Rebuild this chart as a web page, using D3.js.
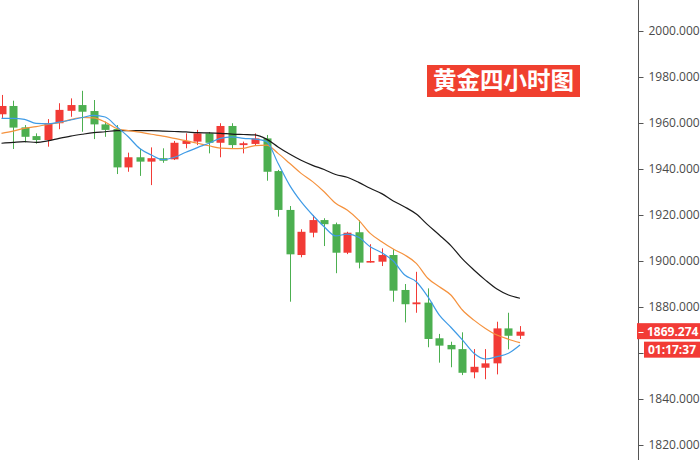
<!DOCTYPE html>
<html>
<head>
<meta charset="utf-8">
<script src="https://cdn.jsdelivr.net/npm/d3@7/dist/d3.min.js"></script>
<style>
  html, body { margin: 0; padding: 0; background: #fff; }
  svg { display: block; }
</style>
</head>
<body>
<svg id="chart" width="700" height="460"></svg>
<script>
// ---- data ----
const bars = d3.range(46).map(i => "K" + (i + 1));
const open  = [1963.8,1967.4,1958.1,1954.3,1952.6,1959.9,1965.3,1967.8,1965.2,1959.4,1957.4,1940.7,1945.1,1943.2,1944.7,1944.2,1950.9,1951.9,1955.5,1951.4,1958.7,1950.4,1950.9,1953.3,1939.1,1922.2,1902.6,1912.3,1917.8,1916.0,1903.6,1912.5,1899.3,1899.7,1902.6,1887.4,1881.2,1881.9,1866.4,1863.5,1861.7,1851.6,1853.6,1855.5,1870.7,1867.5];
const close = [1967.4,1958.0,1954.0,1952.6,1959.9,1965.7,1967.8,1964.9,1959.4,1957.0,1940.7,1945.1,1943.2,1944.7,1943.6,1951.4,1952.2,1955.5,1951.4,1958.7,1950.4,1951.2,1953.3,1938.8,1922.2,1902.9,1912.7,1917.8,1916.0,1903.6,1912.3,1899.3,1900.0,1902.6,1887.1,1881.2,1882.0,1866.1,1863.2,1861.6,1851.4,1854.0,1855.5,1870.7,1867.5,1869.274];
const high  = [1972.2,1969.7,1959.1,1955.5,1961.7,1968.6,1970.7,1974.0,1970.0,1960.6,1959.1,1947.1,1948.8,1949.4,1949.0,1952.2,1955.5,1957.0,1956.1,1959.9,1959.9,1951.9,1955.5,1954.8,1939.6,1923.9,1913.8,1920.0,1918.6,1916.7,1912.7,1917.8,1907.3,1905.5,1905.1,1890.0,1895.3,1888.1,1868.3,1864.9,1869.0,1861.7,1861.7,1873.6,1877.5,1871.7];
const low   = [1962.2,1948.7,1951.6,1951.0,1949.7,1957.3,1962.7,1956.2,1953.0,1954.0,1937.8,1938.8,1937.0,1933.0,1942.7,1943.9,1949.0,1950.4,1946.8,1945.1,1949.0,1946.8,1950.4,1934.9,1919.3,1882.3,1901.6,1910.3,1906.5,1894.7,1903.0,1896.8,1899.3,1897.8,1882.3,1873.3,1877.5,1862.5,1855.8,1853.8,1850.4,1849.0,1848.6,1850.7,1861.6,1866.1];
const ma5   = [1962.0,1962.0,1961.6,1959.8,1959.6,1960.4,1961.3,1962.4,1963.3,1962.6,1958.4,1954.0,1948.9,1946.1,1944.1,1945.1,1947.3,1949.3,1951.2,1953.3,1954.0,1953.3,1953.0,1951.9,1942.5,1933.0,1925.8,1920.0,1914.9,1910.9,1911.7,1910.3,1906.2,1903.6,1900.0,1893.9,1891.0,1884.5,1876.5,1871.2,1865.7,1859.9,1857.4,1858.4,1859.9,1863.5];
const ma10  = [1955.5,1956.5,1957.7,1958.4,1959.4,1960.1,1961.5,1962.4,1962.2,1960.4,1957.6,1956.7,1956.0,1955.1,1954.3,1953.3,1952.3,1951.2,1950.1,1949.1,1948.9,1949.0,1950.2,1950.4,1946.8,1942.5,1938.1,1934.5,1930.1,1925.1,1922.2,1917.8,1912.0,1908.4,1905.2,1902.6,1899.0,1892.5,1888.8,1885.2,1878.7,1874.3,1870.7,1867.8,1866.0,1864.5];
const ma20  = [1951.2,1951.6,1951.9,1951.6,1952.2,1953.3,1954.3,1955.1,1955.8,1956.2,1956.7,1956.7,1956.7,1956.7,1956.5,1956.3,1956.1,1955.8,1955.7,1955.5,1955.2,1955.0,1954.8,1953.0,1949.6,1946.5,1943.8,1941.6,1939.8,1937.6,1936.4,1934.2,1931.6,1929.3,1926.1,1923.5,1920.4,1915.7,1911.3,1906.7,1900.9,1896.1,1891.7,1887.8,1885.2,1883.8];
const yTicks = [1820,1840,1860,1880,1900,1920,1940,1960,1980,2000];
const hiddenTickLabels = [1860]; // covered by the countdown tag in the reference
const title = "黄金四小时图";
const lastPrice = "1869.274";
const countdown = "01:17:37";

// ---- colours ----
const UP = "#f23b36", DOWN = "#4caf50";

const svg = d3.select("#chart");
const W = 700, H = 460, axisX = 638;

const x = d3.scalePoint().domain(bars).range([1.5, 520]);
const y = d3.scaleLinear().domain([1820, 2000]).range([445, 31]);

const plot = svg.append("g");
plot.append("clipPath").attr("id", "clip")
  .append("rect").attr("x", 0).attr("y", 0).attr("width", axisX).attr("height", H);
const g = plot.append("g").attr("clip-path", "url(#clip)");

const data = bars.map((b, i) => ({ b, o: open[i], h: high[i], l: low[i], c: close[i] }));
const bw = 8;

// wicks
g.selectAll("line.wick").data(data).join("line")
  .attr("class", "wick")
  .attr("x1", d => Math.round(x(d.b)) + 0.5)
  .attr("x2", d => Math.round(x(d.b)) + 0.5)
  .attr("y1", d => y(d.h)).attr("y2", d => y(d.l))
  .attr("stroke", d => d.c >= d.o ? UP : DOWN)
  .attr("stroke-width", 1);

// bodies
g.selectAll("rect.body").data(data).join("rect")
  .attr("class", "body")
  .attr("x", d => Math.round(x(d.b)) + 0.5 - bw / 2)
  .attr("width", bw)
  .attr("y", d => y(Math.max(d.o, d.c)))
  .attr("height", d => Math.max(1.5, Math.abs(y(d.o) - y(d.c))))
  .attr("fill", d => d.c >= d.o ? UP : DOWN);

// moving averages
const line = d3.line().x((d, i) => x(bars[i])).y(d => y(d)).curve(d3.curveMonotoneX);
[[ma20, "#1b1b1b"], [ma10, "#f5923e"], [ma5, "#3f9be6"]].forEach(([arr, col]) => {
  g.append("path").datum(arr)
    .attr("d", line)
    .attr("fill", "none")
    .attr("stroke", col)
    .attr("stroke-width", 1.2);
});

// right axis
const fmt = d3.format(".3f");
const axis = d3.axisRight(y).tickValues(yTicks)
  .tickFormat(d => hiddenTickLabels.includes(d) ? "" : fmt(d))
  .tickSize(5).tickPadding(5);
const ag = svg.append("g").attr("transform", `translate(${axisX + 0.5},0)`).call(axis);
ag.select(".domain").remove();
ag.selectAll(".tick line").attr("stroke", "#555");
ag.selectAll(".tick text")
  .attr("fill", "#4a4a4a")
  .style("font-family", "'Open Sans', 'DejaVu Sans', sans-serif")
  .style("font-size", "12px");
svg.append("line")
  .attr("x1", axisX + 0.5).attr("x2", axisX + 0.5)
  .attr("y1", 0).attr("y2", H)
  .attr("stroke", "#555").attr("stroke-width", 1);

// last price tag
const py = y(+lastPrice);
svg.append("rect").attr("x", axisX - 1).attr("y", py - 8.5).attr("width", W - axisX + 1).attr("height", 16).attr("fill", UP);
svg.append("line").attr("x1", axisX + 0.5).attr("x2", axisX + 5.5).attr("y1", Math.round(py) + 0.5).attr("y2", Math.round(py) + 0.5).attr("stroke", "#fff");
svg.append("text").attr("x", 647).attr("y", py).attr("dy", "0.36em")
  .attr("fill", "#fff").style("font-family", "'Open Sans', 'DejaVu Sans', sans-serif")
  .style("font-size", "12px").style("font-weight", "bold").text(lastPrice);
svg.append("rect").attr("x", 644).attr("y", py + 10).attr("width", W - 644).attr("height", 16).attr("fill", UP);
svg.append("text").attr("x", 648).attr("y", py + 18).attr("dy", "0.36em")
  .attr("fill", "#fff").style("font-family", "'Open Sans', 'DejaVu Sans', sans-serif")
  .style("font-size", "12px").style("font-weight", "bold").text(countdown);

// title badge
svg.append("rect").attr("x", 427).attr("y", 65).attr("width", 153).attr("height", 32).attr("fill", "#f0402f");
svg.append("text").attr("x", 503.5).attr("y", 81).attr("dy", "0.36em")
  .attr("text-anchor", "middle").attr("fill", "#fff")
  .style("font-family", "'Noto Sans CJK SC', sans-serif")
  .style("font-size", "23.5px").style("font-weight", "bold").text(title);
</script>
</body>
</html>
